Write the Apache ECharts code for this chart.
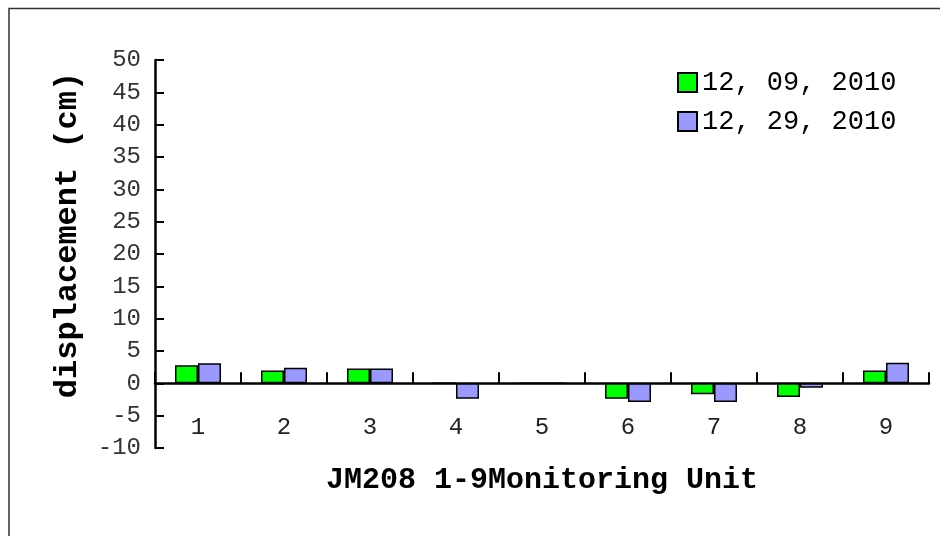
<!DOCTYPE html>
<html>
<head>
<meta charset="utf-8">
<script src="https://cdn.jsdelivr.net/npm/echarts@6/dist/echarts.min.js"></script>
<style>
  html, body { margin: 0; padding: 0; background: #fff; }
  #chart { width: 940px; height: 536px; }
</style>
</head>
<body>
<div id="chart"></div>
<script>
// monitoring units and displacement values (cm)
const units = ['1', '2', '3', '4', '5', '6', '7', '8', '9'];
const dec09 = [2.8, 2.0, 2.3, 0, 0, -2.4, -1.7, -2.1, 2.0];
const dec29 = [3.1, 2.4, 2.3, -2.4, 0, -2.9, -2.9, -0.7, 3.2];
const seriesNames = ['12, 09, 2010', '12, 29, 2010'];

const myChart = echarts.init(document.getElementById('chart'));

const barStyle = color => ({
  color,
  borderColor: '#000',
  borderWidth: 1.5,
});

const option = {
  animation: false,
  backgroundColor: '#fff',
  graphic: [
    {
      type: 'polyline',
      shape: { points: [[9, 540], [9, 8.5], [945, 8.5]] },
      style: { stroke: '#333', lineWidth: 1.5, fill: null },
    },
  ],
  legend: {
    orient: 'vertical',
    left: 672,
    top: 64,
    itemWidth: 19,
    itemHeight: 19,
    itemGap: 12,
    icon: 'rect',
    textStyle: {
      fontFamily: 'Liberation Mono',
      fontSize: 27,
      color: '#000',
    },
    data: seriesNames,
  },
  grid: {
    left: 155,
    right: 11,
    top: 60,
    bottom: 88,
    outerBoundsMode: 'none',
    containLabel: false,
  },
  xAxis: {
    type: 'category',
    data: units,
    name: 'JM208 1-9Monitoring Unit',
    nameLocation: 'middle',
    nameGap: 17,
    nameTextStyle: {
      fontFamily: 'Liberation Mono',
      fontWeight: 'bold',
      fontSize: 30,
      color: '#000',
    },
    axisLine: {
      onZero: true,
      lineStyle: { color: '#000', width: 2.5 },
    },
    axisTick: {
      show: true,
      inside: true,
      length: 11,
      lineStyle: { color: '#000', width: 2 },
    },
    axisLabel: {
      margin: -32,
      fontFamily: 'Liberation Mono',
      fontSize: 24,
      color: '#222',
    },
    splitLine: { show: false },
  },
  yAxis: {
    type: 'value',
    min: -10,
    max: 50,
    interval: 5,
    name: 'displacement (cm)',
    nameLocation: 'middle',
    nameGap: 71,
    nameTextStyle: {
      fontFamily: 'Liberation Mono',
      fontWeight: 'bold',
      fontSize: 32,
      color: '#000',
      padding: [0, 0, 0, 38],
    },
    axisLine: {
      show: true,
      lineStyle: { color: '#000', width: 2.5 },
    },
    axisTick: {
      show: true,
      inside: true,
      length: 9,
      lineStyle: { color: '#000', width: 2 },
    },
    axisLabel: {
      margin: 14,
      fontFamily: 'Liberation Mono',
      fontSize: 24,
      color: '#333',
    },
    splitLine: { show: false },
  },
  series: [
    {
      name: seriesNames[0],
      type: 'bar',
      data: dec09,
      barWidth: 23,
      barGap: '0%',
      itemStyle: barStyle('#00ff00'),
    },
    {
      name: seriesNames[1],
      type: 'bar',
      data: dec29,
      barWidth: 23,
      barGap: '0%',
      itemStyle: barStyle('#9999ff'),
    },
  ],
};

myChart.setOption(option);
</script>
</body>
</html>
